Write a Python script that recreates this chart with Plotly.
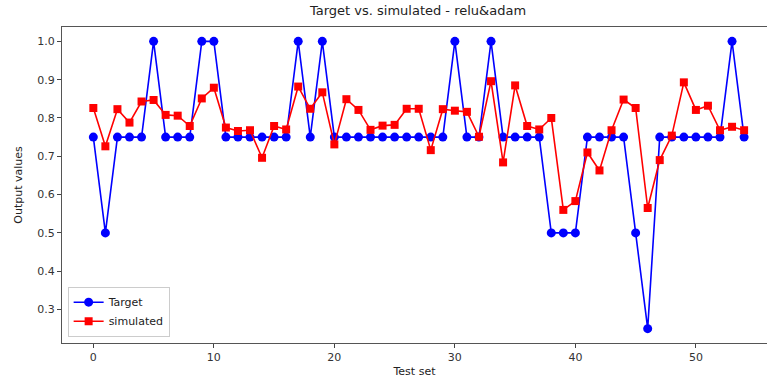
import plotly.graph_objects as go

test_index = list(range(55))
target = [0.75, 0.5, 0.75, 0.75, 0.75, 1.0, 0.75, 0.75, 0.75, 1.0,
          1.0, 0.75, 0.75, 0.75, 0.75, 0.75, 0.75, 1.0, 0.75, 1.0,
          0.75, 0.75, 0.75, 0.75, 0.75, 0.75, 0.75, 0.75, 0.75, 0.75,
          1.0, 0.75, 0.75, 1.0, 0.75, 0.75, 0.75, 0.75, 0.5, 0.5,
          0.5, 0.75, 0.75, 0.75, 0.75, 0.5, 0.25, 0.75, 0.75, 0.75,
          0.75, 0.75, 0.75, 1.0, 0.75]
simulated = [0.826, 0.726, 0.823, 0.788, 0.843, 0.847, 0.808, 0.806, 0.779, 0.851,
             0.879, 0.775, 0.766, 0.768, 0.696, 0.779, 0.77, 0.882, 0.824, 0.867,
             0.731, 0.849, 0.821, 0.769, 0.78, 0.782, 0.824, 0.824, 0.716, 0.823,
             0.819, 0.816, 0.751, 0.896, 0.684, 0.885, 0.779, 0.77, 0.8, 0.56,
             0.583, 0.71, 0.663, 0.768, 0.848, 0.826, 0.565, 0.69, 0.754, 0.893,
             0.821, 0.832, 0.768, 0.777, 0.768]
y_ticks = [0.3, 0.4, 0.5, 0.6, 0.7, 0.8, 0.9, 1.0]
x_ticks = [0, 10, 20, 30, 40, 50]

FONT = "DejaVu Sans"

fig = go.Figure()
fig.add_trace(go.Scatter(
    x=test_index, y=target, name="Target", mode="lines+markers",
    line=dict(color="#0000ff", width=1.6),
    marker=dict(symbol="circle", size=9, color="#0000ff"),
))
fig.add_trace(go.Scatter(
    x=test_index, y=simulated, name="simulated", mode="lines+markers",
    line=dict(color="#ff0000", width=1.6),
    marker=dict(symbol="square", size=8, color="#ff0000"),
))

fig.update_layout(
    width=767, height=379,
    margin=dict(l=62, r=0, t=27, b=36),
    paper_bgcolor="white", plot_bgcolor="white",
    font=dict(family=FONT, size=11, color="#333333"),
    title=dict(text="Target vs. simulated - relu&adam", x=0.505, xref="paper",
               xanchor="center", y=0.985, yanchor="top",
               font=dict(family=FONT, size=13, color="#222222")),
    showlegend=True,
    legend=dict(x=0.008, y=0.02, xanchor="left", yanchor="bottom",
                bgcolor="rgba(255,255,255,0.8)", bordercolor="#cccccc",
                borderwidth=1, font=dict(family=FONT, size=11, color="#222222"),
                tracegroupgap=0, itemwidth=30),
)
fig.update_xaxes(
    range=[-2.6, 55.9], tickvals=x_ticks, ticks="outside", ticklen=4,
    tickcolor="#444444", showgrid=False, zeroline=False,
    showline=True, linecolor="#555555", linewidth=1.2, mirror=True,
    title=dict(text="Test set", standoff=4, font=dict(family=FONT, size=11, color="#222222")),
    tickfont=dict(family=FONT, size=11, color="#333333"),
)
fig.update_yaxes(
    range=[0.2125, 1.0375], tickvals=y_ticks, ticktext=[f"{v:.1f}" for v in y_ticks],
    ticks="outside", ticklen=4, tickcolor="#444444", showgrid=False, zeroline=False,
    showline=True, linecolor="#555555", linewidth=1.2, mirror=False,
    title=dict(text="Output values", standoff=12, font=dict(family=FONT, size=11, color="#222222")),
    tickfont=dict(family=FONT, size=11, color="#333333"),
)

fig.write_html("out.html")
